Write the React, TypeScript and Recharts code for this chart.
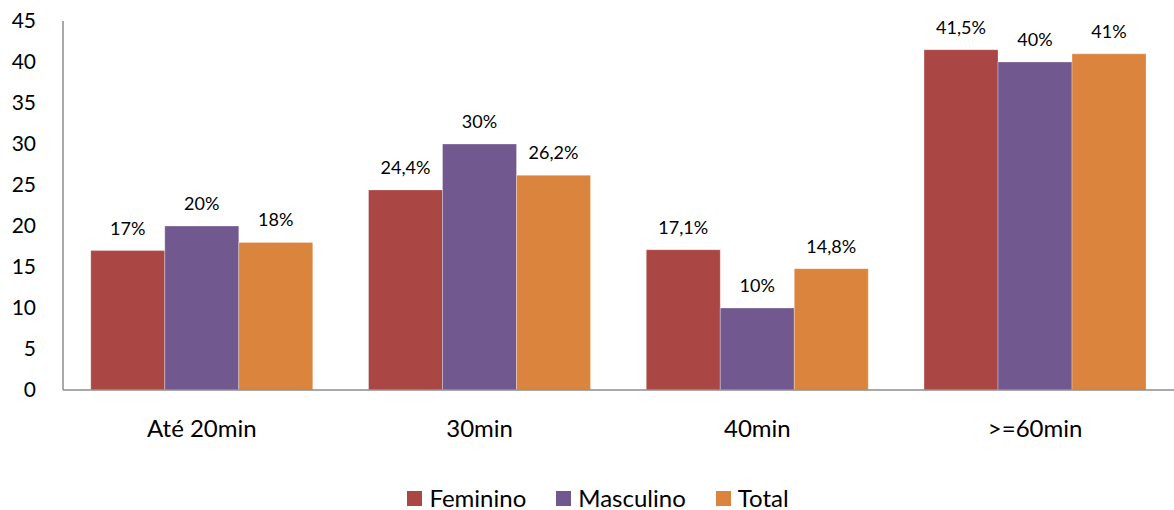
import React from "react";
import { BarChart, Bar, XAxis, YAxis, LabelList, Legend } from "recharts";

// Categories (travel time) and per-group shares in percent
const categories = ["Até 20min", "30min", "40min", ">=60min"];
const feminino = [17, 24.4, 17.1, 41.5];
const masculino = [20, 30, 10, 40];
const total = [18, 26.2, 14.8, 41];
const yTicks = [0, 5, 10, 15, 20, 25, 30, 35, 40, 45];

const series = [
  { key: "feminino", name: "Feminino", color: "#AA4644" },
  { key: "masculino", name: "Masculino", color: "#71588F" },
  { key: "total", name: "Total", color: "#DB843D" },
];

const data = categories.map((c, i) => ({
  category: c,
  feminino: feminino[i],
  masculino: masculino[i],
  total: total[i],
}));

const FONT = "Lato, 'Open Sans', sans-serif";

const fmt = (v: any) => `${String(v).replace(".", ",")}%`;

const LegendContent = () => (
  <div
    style={{
      height: 40,
      display: "flex",
      justifyContent: "center",
      alignItems: "flex-start",
      paddingTop: 17,
      paddingLeft: 22,
      boxSizing: "border-box",
      fontFamily: FONT,
      fontSize: 24,
      color: "#000",
      lineHeight: "22px",
    }}
  >
    {series.map((s, i) => (
      <div
        key={s.key}
        style={{ display: "flex", alignItems: "center", marginLeft: i === 0 ? 0 : 30 }}
      >
        <span
          style={{
            display: "inline-block",
            width: 15,
            height: 15,
            background: s.color,
            marginRight: 7,
          }}
        />
        <span>{s.name}</span>
      </div>
    ))}
  </div>
);

export default function App() {
  return (
    <div style={{ width: 1174, height: 510, background: "#fff" }}>
      <style>{`body{margin:0;}`}</style>
      <BarChart
        width={1174}
        height={510}
        data={data}
        margin={{ top: 21, right: 0, bottom: 0, left: 0 }}
        barGap={0}
        barCategoryGap="10%"
      >
        <YAxis
          width={63}
          domain={[0, 45]}
          ticks={yTicks}
          interval={0}
          tickLine={false}
          tickSize={0}
          tickMargin={27}
          axisLine={{ stroke: "#8c8c8c", strokeWidth: 1.5 }}
          tick={{ fill: "#000", fontSize: 21, fontFamily: FONT }}
        />
        <XAxis
          dataKey="category"
          height={80}
          tickLine={false}
          tickSize={0}
          tickMargin={30}
          axisLine={{ stroke: "#8c8c8c", strokeWidth: 1.5 }}
          tick={{ fill: "#000", fontSize: 24, fontFamily: FONT }}
        />
        <Legend verticalAlign="bottom" content={<LegendContent />} />
        {series.map((s) => (
          <Bar
            key={s.key}
            dataKey={s.key}
            name={s.name}
            fill={s.color}
            stroke="#ffffff"
            strokeOpacity={0.5}
            strokeWidth={0.6}
            isAnimationActive={false}
          >
            <LabelList
              dataKey={s.key}
              position="top"
              offset={16}
              formatter={fmt}
              style={{ fill: "#000", fontSize: 18, fontFamily: FONT }}
            />
          </Bar>
        ))}
      </BarChart>
    </div>
  );
}
